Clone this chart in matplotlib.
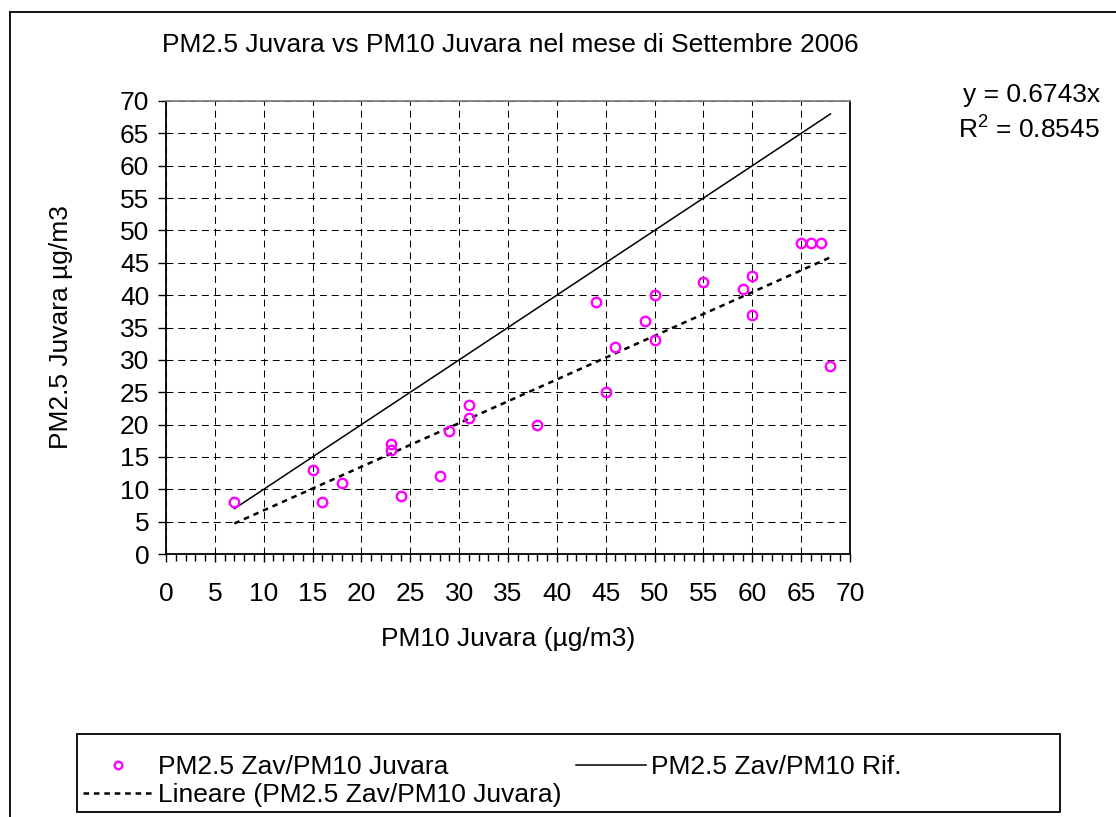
import matplotlib
matplotlib.use("Agg")
import matplotlib.pyplot as plt
from matplotlib.lines import Line2D
from matplotlib.patches import Rectangle
import numpy as np

plt.rcParams['font.family'] = ['Liberation Sans', 'DejaVu Sans']
plt.rcParams['lines.scale_dashes'] = False
plt.rcParams['mathtext.fontset'] = 'custom'
plt.rcParams['mathtext.rm'] = 'Liberation Sans'
plt.rcParams['mathtext.it'] = 'Liberation Sans'
plt.rcParams['mathtext.default'] = 'regular'

# ---- data ----
pm10_juvara = [7, 15, 16, 18, 23, 23, 24, 28, 29, 31, 31, 38, 44, 45, 46,
               49, 50, 50, 55, 59, 60, 60, 65, 66, 67, 68]
pm25_juvara = [8, 13, 8, 11, 17, 16, 9, 12, 19, 23, 21, 20, 39, 25, 32,
               36, 40, 33, 42, 41, 43, 37, 48, 48, 48, 29]
ref_x = [7, 68]
ref_y = [7, 68]
trend_slope = 0.6743
trend_r2 = 0.8545

title = "PM2.5 Juvara vs PM10 Juvara nel mese di Settembre 2006"
xlabel = "PM10 Juvara (µg/m3)"
ylabel = "PM2.5 Juvara µg/m3"
lab_points = "PM2.5 Zav/PM10 Juvara"
lab_ref = "PM2.5 Zav/PM10 Rif."
lab_trend = "Lineare (PM2.5 Zav/PM10 Juvara)"
ticks = list(range(0, 71, 5))

W, H = 1116, 817
fig = plt.figure(figsize=(W / 100, H / 100), dpi=100)

def fx(px):
    return px / W

def fy(py):
    return 1 - py / H

# outer chart border (left + top visible)
fig.add_artist(Line2D([fx(9.5), fx(9.5)], [fy(11.5), -0.01], color='black', lw=1.3,
                      transform=fig.transFigure))
fig.add_artist(Line2D([fx(9.5), 1.01], [fy(11.5), fy(11.5)], color='black', lw=1.3,
                      transform=fig.transFigure))

ax_l, ax_r, ax_t, ax_b = 166, 850, 101, 554
ax = fig.add_axes([fx(ax_l), fy(ax_b), fx(ax_r - ax_l), (ax_b - ax_t) / H])

FS = 19

# data
tx = np.array([min(pm10_juvara), max(pm10_juvara)])
ax.plot(ref_x, ref_y, color='black', lw=1.1, zorder=3)
ax.plot(tx, trend_slope * tx, color='black', lw=1.8, linestyle=(0, (4, 3.5)), zorder=3)
ax.plot(pm10_juvara, pm25_juvara, linestyle='none', marker='o', ms=6.8,
        mfc='none', mec='#FF00FF', mew=1.7, zorder=4)

ax.set_xlim(0, 70)
ax.set_ylim(0, 70)
ax.set_xticks(ticks)
ax.set_yticks(ticks)
ax.set_xticks(range(0, 71, 1), minor=True)
ax.grid(True, which='major', color='black', lw=0.75, linestyle=(0, (5, 3.5)))
ax.set_axisbelow(True)
for s in ['left', 'bottom', 'right']:
    ax.spines[s].set_color('black')
    ax.spines[s].set_linewidth(1.3)
ax.spines['top'].set_color('#808080')
ax.spines['top'].set_linewidth(1.3)

ax.tick_params(axis='x', which='major', direction='out', length=6, width=1,
               labelsize=FS, pad=14)
ax.tick_params(axis='x', which='minor', direction='out', length=5, width=1)
ax.tick_params(axis='y', which='major', direction='out', length=6, width=1,
               labelsize=FS, pad=6)
ax.tick_params(axis='y', which='minor', left=False)

ax.set_xlabel(xlabel, fontsize=FS, labelpad=15)
ax.set_ylabel(ylabel, fontsize=FS, labelpad=34)

fig.text(fx(510), fy(45), title, fontsize=FS, ha='center', va='center')
fig.text(fx(1100), fy(95), f"y = {trend_slope:.4f}x", fontsize=FS, ha='right', va='center')
fig.text(fx(1100), fy(130), f"R$^2$ = {trend_r2:.4f}", fontsize=FS, ha='right', va='center')

# legend box
fig.add_artist(Rectangle((fx(77), fy(812)), fx(1060 - 77), (812 - 734) / H,
                         transform=fig.transFigure, fill=False, edgecolor='black', lw=1.3))
h_pts = Line2D([], [], linestyle='none', marker='o', ms=5.5, mfc='none', mec='#FF00FF', mew=1.7)
h_ref = Line2D([], [], color='black', lw=1.1)
h_trend = Line2D([], [], color='black', lw=1.8, linestyle=(0, (4, 3.5)))
fig.legend([h_pts, h_trend, h_ref], [lab_points, lab_trend, lab_ref], ncol=2,
           loc='upper left', bbox_to_anchor=(fx(83), fy(755)), frameon=False,
           fontsize=FS, handlelength=2.65, handletextpad=0.2, columnspacing=0.55,
           labelspacing=0.15, borderaxespad=0, borderpad=0)

fig.savefig("out.png", dpi=100)
